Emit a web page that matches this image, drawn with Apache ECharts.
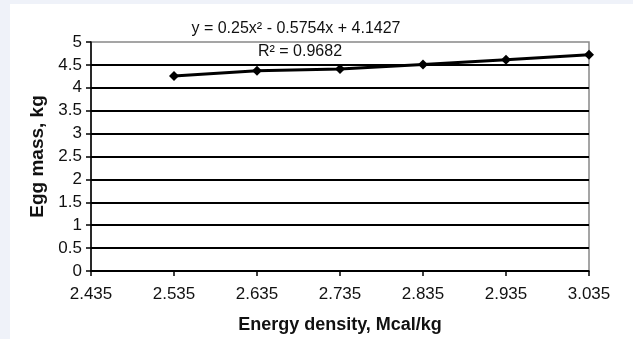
<!DOCTYPE html>
<html><head><meta charset="utf-8">
<script src="https://cdn.jsdelivr.net/npm/echarts@6/dist/echarts.min.js"></script>
<style>
html,body{margin:0;padding:0;background:#eff2f9;}
#wrap{position:absolute;left:10px;top:4px;width:623px;height:335px;background:#fff;}
#c{position:absolute;left:0;top:0;width:633px;height:339px;}
</style></head>
<body><div id="wrap"></div><div id="c"></div>
<script>
const xTicks = ['2.435','2.535','2.635','2.735','2.835','2.935','3.035'];
const xValues = ['2.535','2.635','2.735','2.835','2.935','3.035'];
const eggMass = [4.26, 4.37, 4.41, 4.51, 4.61, 4.72];
const equation = 'y = 0.25x² - 0.5754x + 4.1427';
const rSquared = 'R² = 0.9682';

const chart = echarts.init(document.getElementById('c'), null, {renderer:'canvas'});
const font = '"Liberation Sans", Arial, sans-serif';
chart.setOption({
  backgroundColor: 'transparent',
  animation: false,
  grid: {left: 91, right: 44, top: 42, bottom: 67, show: true, borderColor: '#888', borderWidth: 1.5, backgroundColor: 'transparent'},
  xAxis: {
    type: 'category', data: xTicks, boundaryGap: false,
    axisLine: {lineStyle: {color: '#000', width: 1.5}},
    axisTick: {show: true, length: 5, lineStyle: {color: '#000', width: 1.5}},
    axisLabel: {color: '#111', fontFamily: font, fontSize: 17, margin: 15},
    splitLine: {show: false},
    name: 'Energy density, Mcal/kg', nameLocation: 'middle', nameGap: 45,
    nameTextStyle: {color: '#111', fontFamily: font, fontSize: 18, fontWeight: 'bold'}
  },
  yAxis: {
    type: 'value', min: 0, max: 5, interval: 0.5,
    axisLine: {show: true, lineStyle: {color: '#000', width: 1.5}},
    axisTick: {show: true, length: 5, lineStyle: {color: '#000', width: 1.5}},
    axisLabel: {color: '#111', fontFamily: font, fontSize: 17, margin: 9},
    splitLine: {show: true, showMaxLine: false, lineStyle: {color: '#000', width: 1.8}},
    name: 'Egg mass, kg', nameLocation: 'middle', nameGap: 44,
    nameTextStyle: {color: '#111', fontFamily: font, fontSize: 19, fontWeight: 'bold'}
  },
  series: [{
    type: 'line',
    data: xValues.map((x, i) => [x, eggMass[i]]),
    symbol: 'diamond', symbolSize: 10,
    itemStyle: {color: '#000'},
    lineStyle: {color: '#000', width: 3}
  }],
  graphic: [
    {type: 'text', x: 296, y: 29, style: {text: equation, font: '16px ' + font, fill: '#111', textAlign: 'center', textVerticalAlign: 'middle'}},
    {type: 'text', x: 300, y: 52, style: {text: rSquared, font: '16px ' + font, fill: '#111', textAlign: 'center', textVerticalAlign: 'middle'}}
  ]
});
</script></body></html>
